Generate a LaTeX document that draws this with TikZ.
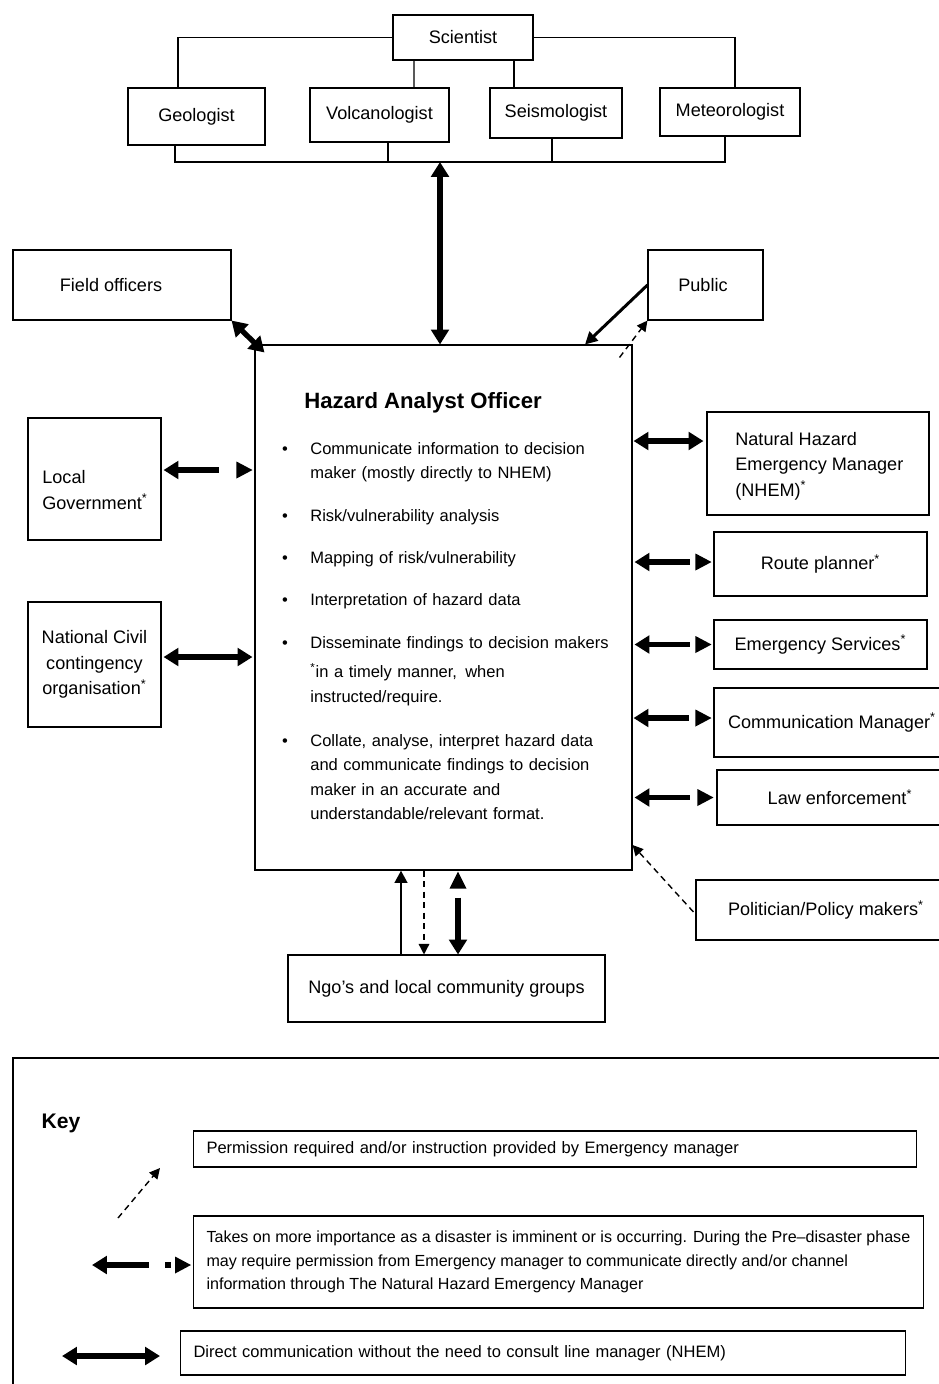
\documentclass[tikz,border=0pt]{standalone}
\usepackage{fontspec}
\setmainfont{Liberation Sans}
\usetikzlibrary{arrows.meta,calc}
\newcommand{\LblFont}{\fontsize{10.3}{14.5}\selectfont}
\newcommand{\TxtFont}{\fontsize{9.4}{13}\selectfont}
\newcommand{\Split}[2]{%
  \draw[lhead] (#1) -- ++(55,0);
  \fill (#2) -- ++(-16,-8.5) -- ++(0,17) -- cycle;}
\newcommand{\Bullet}[3]{%
  \node[anchor=base, inner sep=0pt, font=\TxtFont] (#1b) at (285,#2) {\textbullet};
  \node[item] (#1) at (310,#2) {#3};}

\begin{document}
\begin{tikzpicture}[x=0.02cm, y=-0.02cm,
  box/.style={draw, line width=0.6pt, font=\LblFont, align=center},
  wh/.style 2 args={minimum width=#1*0.02cm, minimum height=#2*0.02cm},
  item/.style={anchor=base west, inner sep=0pt, align=left, text width=6.4cm, font=\TxtFont},
  lbl/.style={anchor=west, inner sep=0pt, align=left, font=\LblFont},
  keybox/.style={draw, line width=0.6pt, font=\TxtFont, align=left, inner xsep=0.26cm, anchor=west},
  dbl/.style={line width=3pt, {Triangle[length=8.5pt,width=10pt]}-{Triangle[length=8.5pt,width=10pt]}},
  lhead/.style={line width=3pt, {Triangle[length=8.5pt,width=10pt]}-},
  rhead/.style={line width=3pt, -{Triangle[length=8.5pt,width=10pt]}},
  med/.style={line width=1.7pt, -{Triangle[length=7pt,width=7pt]}},
  dsh/.style={line width=0.8pt, dash pattern=on 3.5pt off 2.5pt, -{Triangle[length=6pt,width=6pt]}}]

\useasboundingbox (0,0) rectangle (939,1384);

% scientists
\node[box, wh={140}{45}] (sci) at (463,37.5) {Scientist};
\node[box, wh={137}{57}] (geo) at (196.5,116.5) {Geologist};
\node[box, wh={139}{54}] (vol) at (379.5,115) {Volcanologist};
\node[box, wh={132}{50}] (sei) at (556,113) {\raisebox{-2pt}{Seismologist}};
\node[box, wh={140}{48}] (met) at (730,112) {\raisebox{-2pt}{Meteorologist}};
\coordinate (bus) at (440,162);
\draw[line width=0.6pt] (sci.west) -| ($(geo.north)+(-18.5,0)$);
\draw[line width=0.6pt] (sci.east) -| ($(met.north)+(5,0)$);
\draw[line width=0.8pt] ($(sci.south)+(-49,0)$) -- ($(vol.north)+(34.5,0)$);
\draw[line width=0.8pt] ($(sci.south)+(51,0)$) -- ($(sei.north)+(-42,0)$);
\draw[line width=0.9pt] ($(geo.south)+(-21.5,0)$) |- (bus) -| ($(met.south)+(-5,0)$);
\draw[line width=0.6pt] ($(vol.south)+(8.5,0)$) |- (bus);
\draw[line width=0.9pt] ($(sei.south)+(-4,0)$) |- (bus);

% hazard analyst
\node[box, wh={377}{525}] (hao) at (443.5,607.5) {};
\draw[dbl] (bus) -- (bus |- hao.north);
\node[font=\fontsize{12.6}{15}\selectfont\bfseries] (title) at (423,403) {Hazard Analyst Officer};
\Bullet{i1}{454}{Communicate information to decision\\[1pt]maker (mostly directly to NHEM)}
\Bullet{i2}{521}{Risk/vulnerability analysis}
\Bullet{i3}{563}{Mapping of risk/vulnerability}
\Bullet{i4}{605}{Interpretation of hazard data}
\Bullet{i5}{648}{Disseminate findings to decision makers\\[4pt]\textsuperscript{*}in a timely manner,\, when\\[1pt]instructed/require.}
\Bullet{i6}{746}{Collate, analyse, interpret hazard data\\[1pt]and communicate findings to decision\\[1pt]maker in an accurate and\\[1pt]understandable/relevant format.}

% top left and right
\node[box, wh={218}{70}] (fo) at (122,285) {Field officers\hspace*{0.44cm}};
\node[box, wh={115}{70}] (pub) at (705.5,285) {Public\hspace*{0.1cm}};
\draw[dbl] (fo.south east) -- ($(hao.north west)+(10,8)$);
\draw[med] (pub.west) -- ($(hao.north)+(141.5,0)$);
\draw[dsh] ($(hao.north east)+(-13,13)$) -- (pub.south west);

% left side
\node[box, wh={133}{122}] (lg) at (94.5,479) {};
\node[lbl] (lgt) at (42,490) {Local\\Government\textsuperscript{*}};
\Split{$(lg.east)+(2,-9)$}{$(lg.east -| hao.west)+(-2,-9)$}
\node[box, wh={133}{125}] (ncc) at (94.5,664.5) {National Civil\\contingency\\organisation\textsuperscript{*}};
\draw[dbl] ($(ncc.east)+(2,-7.5)$) -- ($(ncc.east -| hao.west)+(-2,-7.5)$);

% right side
\node[box, wh={222}{103}] (nhem) at (818,463.5) {};
\node[lbl] (nhemt) at (735,466) {Natural Hazard\\Emergency Manager\\(NHEM)\textsuperscript{*}};
\draw[dbl] ($(nhem.west -| hao.east)+(1,-22.5)$) -- ($(nhem.west)+(-3,-22.5)$);
\node[box, wh={213}{64}] (rp) at (820.5,564) {Route planner\textsuperscript{*}};
\Split{$(rp.west -| hao.east)+(2,-2)$}{$(rp.west)+(-2,-2)$}
\node[box, wh={213}{49}] (es) at (820.5,644.5) {Emergency Services\textsuperscript{*}};
\Split{$(es.west -| hao.east)+(2,0)$}{$(es.west)+(-2,0)$}
\node[box, wh={236}{69}] (cm) at (832,722.5) {Communication Manager\textsuperscript{*}};
\Split{$(cm.west -| hao.east)+(1,-4.5)$}{$(cm.west)+(-2,-4.5)$}
\node[box, wh={246}{55}] (le) at (840,797.5) {Law enforcement\textsuperscript{*}};
\Split{$(le.west -| hao.east)+(2,0)$}{$(le.west)+(-3,0)$}
\node[box, wh={260}{60}] (pol) at (826,910) {Politician/Policy makers\textsuperscript{*}};
\draw[dsh] ($(pol.west)+(-2,2)$) -- ($(hao.east)+(0,237.5)$);

% bottom
\node[box, wh={317}{67}] (ngo) at (446.5,988.5) {Ngo’s and local community groups};
\draw[med] ($(ngo.north)+(-45.5,0)$) -- ($(hao.south)+(-42.5,0)$);
\draw[dsh] ($(hao.south)+(-19.5,0)$) -- ($(ngo.north)+(-22.5,0)$);
\fill ($(hao.south)+(14.5,1)$) -- ++(-8.5,17) -- ++(17,0) -- cycle;
\draw[rhead] ($(hao.south)+(14.5,27)$) -- ($(ngo.north)+(11.5,0)$);

% key
\draw[line width=0.6pt] (960,1058) -- (13,1058) -- (13,1400);
\node[font=\fontsize{12}{14}\selectfont\bfseries] (key) at (61,1123) {Key};
\node[keybox, minimum height=36*0.02cm, text width=13.94cm] (k1) at (193,1149) {Permission required and/or instruction provided by Emergency manager};
\node[keybox, minimum height=92*0.02cm, font=\fontsize{9.15}{13.2}\selectfont] (k2) at (193,1262) {Takes on more importance as a disaster is imminent or is occurring. During the Pre–disaster phase\\may require permission from Emergency manager to communicate directly and/or channel\\information through The Natural Hazard Emergency Manager};
\node[keybox, minimum height=44*0.02cm, text width=13.98cm] (k3) at (180,1353) {Direct communication without the need to consult line manager (NHEM)};
\coordinate (d1) at (118,1218);
\coordinate (d2) at (160,1168);
\draw[dsh] (d1) -- (d2);
\coordinate (s1) at (92,1265);
\draw[lhead] (s1) -- ++(57,0);
\draw[line width=3pt] ($(s1)+(73,0)$) -- ++(6,0);
\fill ($(s1)+(99,0)$) -- ++(-16,-8.5) -- ++(0,17) -- cycle;
\coordinate (a1) at (62,1356);
\coordinate (a2) at (160,1356);
\draw[dbl] (a1) -- (a2);

\end{tikzpicture}
\end{document}
